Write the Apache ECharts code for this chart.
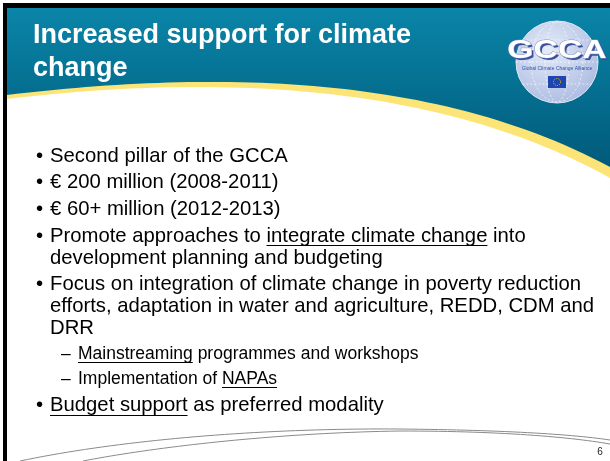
<!DOCTYPE html>
<html>
<head>
<meta charset="utf-8">
<script src="https://cdn.jsdelivr.net/npm/echarts@6/dist/echarts.min.js"></script>
<style>
  html, body { margin: 0; padding: 0; background: #fff; }
  #slide { width: 610px; height: 461px; }
</style>
</head>
<body>
<div id="slide"></div>
<script>
// slide texts
var titleLines = ['Increased support for climate', 'change'];
var logoText = 'GCCA';
var logoSubText = 'Global Climate Change Alliance';
var pageNumber = '6';
// each item: its lines; {u|...} marks underlined words
var bulletLines = [
  ['Second pillar of the GCCA'],
  ['\u20ac 200 million (2008-2011)'],
  ['\u20ac 60+ million (2012-2013)'],
  ['Promote approaches to {u|integrate climate change} into', 'development planning and budgeting'],
  ['Focus on integration of climate change in poverty reduction', 'efforts, adaptation in water and agriculture, REDD, CDM and', 'DRR'],
  ['{u|Mainstreaming} programmes and workshops'],
  ['Implementation of {u|NAPAs}'],
  ['{u|Budget support} as preferred modality']
];
var bulletLevels = [1, 1, 1, 1, 1, 2, 2, 1];

var FONT = '"Liberation Sans", Arial, sans-serif';
var ctx = document.createElement('canvas').getContext('2d');
function textW(s, size) {
  ctx.font = size + 'px ' + FONT;
  return ctx.measureText(s).width;
}
// sample a cubic bezier into points
function bez(p0, p1, p2, p3, n) {
  var pts = [];
  for (var i = 0; i <= n; i++) {
    var t = i / n, a = (1 - t) * (1 - t) * (1 - t), b = 3 * (1 - t) * (1 - t) * t, c = 3 * (1 - t) * t * t, d = t * t * t;
    pts.push([a * p0[0] + b * p1[0] + c * p2[0] + d * p3[0], a * p0[1] + b * p1[1] + c * p2[1] + d * p3[1]]);
  }
  return pts;
}

var chart = echarts.init(document.getElementById('slide'), null, { renderer: 'canvas' });
var g = [];

// header band (yellow edge under teal)
var yellowEdge = bez([610, 178], [430, 78], [200, 76], [7, 99], 60);
g.push({
  type: 'polygon', z: 1,
  shape: { points: [[7, 8], [610, 8]].concat(yellowEdge) },
  style: { fill: '#fde476' }
});
var tealEdge = bez([610, 167], [430, 70], [200, 72], [7, 95], 60);
g.push({
  type: 'polygon', z: 2,
  shape: { points: [[7, 8], [610, 8]].concat(tealEdge) },
  style: {
    fill: new echarts.graphic.LinearGradient(0, 8, 0, 175, [
      { offset: 0, color: '#0a85a8' },
      { offset: 1, color: '#005878' }
    ], true)
  }
});
// black frame
g.push({ type: 'rect', z: 5, shape: { x: 3, y: 3, width: 607, height: 5 }, style: { fill: '#000' } });
g.push({ type: 'rect', z: 5, shape: { x: 3, y: 3, width: 4, height: 458 }, style: { fill: '#000' } });

// title
titleLines.forEach(function (t, i) {
  g.push({
    type: 'text', z: 6, x: 33, y: 49 + i * 33,
    style: { text: t, fill: '#fff', font: 'bold 27px ' + FONT, verticalAlign: 'bottom' }
  });
});

// logo
var cx = 557, cy = 62, r = 41;
g.push({
  type: 'circle', z: 6, shape: { cx: cx, cy: cy, r: r },
  style: {
    fill: new echarts.graphic.RadialGradient(0.4, 0.35, 0.75, [
      { offset: 0, color: '#e4ebf8' },
      { offset: 1, color: '#a8b8e0' }
    ]),
    stroke: '#dfe6f5', lineWidth: 1
  }
});
[12, 26].forEach(function (rx) {
  var pts = [];
  for (var i = 0; i <= 48; i++) {
    var a = i / 48 * Math.PI * 2;
    pts.push([cx + rx * Math.cos(a), cy + (r - 1) * Math.sin(a)]);
  }
  g.push({ type: 'polyline', z: 7, shape: { points: pts },
    style: { stroke: 'rgba(255,255,255,0.8)', lineWidth: 0.8, lineDash: [2, 2] } });
});
[-22, 0, 22].forEach(function (dy) {
  var hw = Math.sqrt(r * r - dy * dy);
  g.push({ type: 'line', z: 7, shape: { x1: cx - hw, y1: cy + dy, x2: cx + hw, y2: cy + dy },
    style: { stroke: 'rgba(255,255,255,0.8)', lineWidth: 0.8, lineDash: [2, 2] } });
});
g.push({
  type: 'text', z: 8, x: cx + 2, y: cy - 9, scaleX: 1.3,
  style: { text: logoText, font: 'bold 26px ' + FONT, fill: '#3c4f9a', align: 'center', verticalAlign: 'middle' }
});
g.push({
  type: 'text', z: 9, x: cx, y: cy - 11, scaleX: 1.3,
  style: { text: logoText, font: 'bold 26px ' + FONT, fill: '#fff', stroke: '#8090c0', lineWidth: 0.8, align: 'center', verticalAlign: 'middle' }
});
g.push({
  type: 'text', z: 9, x: cx, y: cy + 7,
  style: { text: logoSubText, font: '5px ' + FONT, fill: '#3050a8', align: 'center', verticalAlign: 'middle' }
});
g.push({ type: 'rect', z: 9, shape: { x: cx - 9, y: cy + 14, width: 18, height: 12 }, style: { fill: '#1f45b0' } });
g.push({ type: 'circle', z: 10, shape: { cx: cx, cy: cy + 20, r: 3.5 },
  style: { fill: null, stroke: '#f5d000', lineWidth: 1, lineDash: [1, 1.2] } });

// bullets
var y = 156;
bulletLines.forEach(function (lines, k) {
  var lvl = bulletLevels[k];
  var fs = lvl === 1 ? 20.3 : 17.5;
  var tx = lvl === 1 ? 50 : 78;
  if (k > 0) y += (lvl === 2 ? 25 : 26.7);
  g.push({
    type: 'text', z: 6, x: lvl === 1 ? 36 : 61, y: y,
    style: { text: lvl === 1 ? '\u2022' : '\u2013', font: fs + 'px ' + FONT, fill: '#000', verticalAlign: 'middle' }
  });
  lines.forEach(function (ln, j) {
    if (j > 0) y += 22;
    var plain = ln.replace(/\{u\|([^}]*)\}/g, '$1');
    g.push({
      type: 'text', z: 6, x: tx, y: y,
      style: { text: plain, font: fs + 'px ' + FONT, fill: '#000', verticalAlign: 'middle' }
    });
    var m, re = /\{u\|([^}]*)\}/g;
    while ((m = re.exec(ln)) !== null) {
      var before = ln.slice(0, m.index).replace(/\{u\|([^}]*)\}/g, '$1');
      var x0 = tx + textW(before, fs);
      var x1 = x0 + textW(m[1], fs);
      var uy = Math.round(y + fs * 0.45) + 0.5;
      g.push({ type: 'line', z: 6, shape: { x1: x0, y1: uy, x2: x1, y2: uy }, style: { stroke: '#000', lineWidth: 1 } });
    }
  });
});

// footer swooshes
g.push({ type: 'polyline', z: 3,
  shape: { points: bez([20, 461], [120, 440], [260, 428], [400, 429], 40).concat(bez([400, 429], [500, 430], [570, 434], [610, 440], 30)) },
  style: { stroke: '#8a8a8a', lineWidth: 1 } });
g.push({ type: 'polyline', z: 3,
  shape: { points: bez([83, 461], [150, 448], [270, 433], [400, 431], 40).concat(bez([400, 431], [500, 431], [570, 437], [610, 444], 30)) },
  style: { stroke: '#8a8a8a', lineWidth: 1 } });
g.push({
  type: 'text', z: 6, x: 600, y: 452,
  style: { text: pageNumber, font: '10px ' + FONT, fill: '#222', align: 'center', verticalAlign: 'middle' }
});

chart.setOption({ animation: false, graphic: g });
</script>
</body>
</html>
